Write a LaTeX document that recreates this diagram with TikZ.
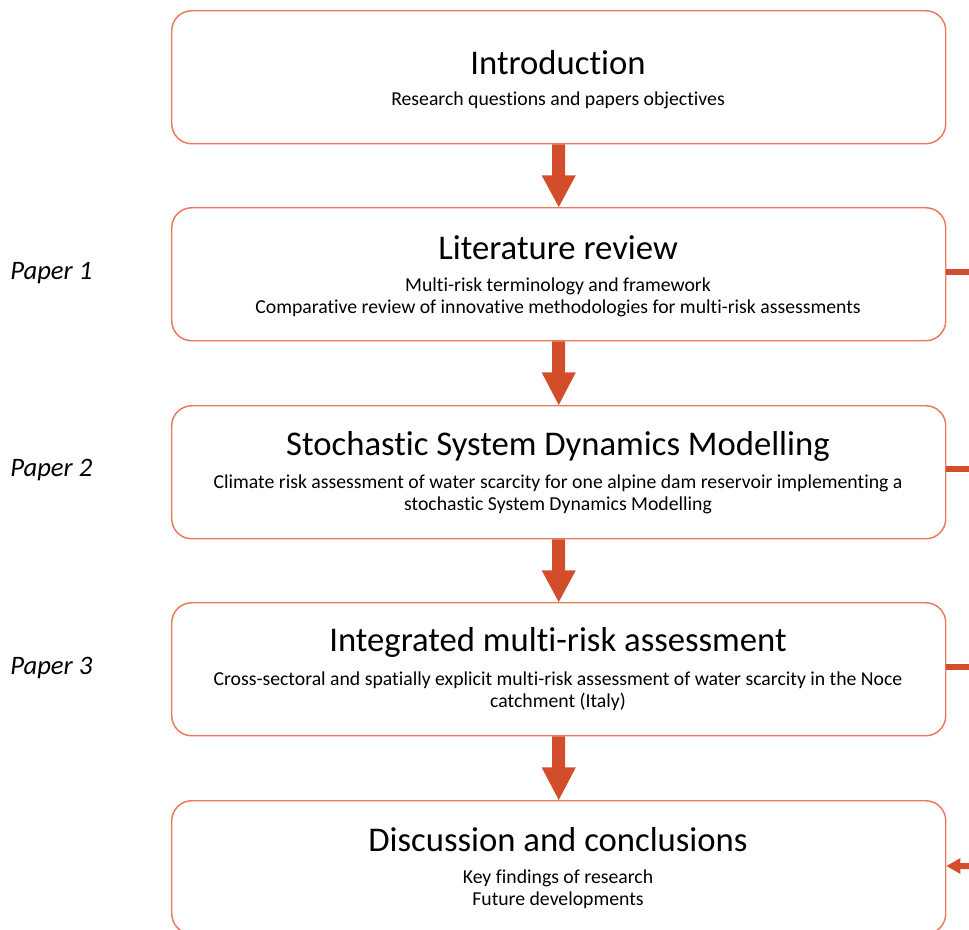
\documentclass[tikz,border=0pt]{standalone}
\usepackage{fontspec}
\setmainfont{Carlito}[Ligatures={NoCommon,NoRequired,NoContextual,NoRare}, Contextuals=NoAlternate]
\usetikzlibrary{arrows.meta,calc}
\definecolor{boxline}{HTML}{E97A5A}
\definecolor{flow}{HTML}{D24E2A}
\tikzset{
  stagebox/.style={draw=boxline, line width=1.1pt, rounded corners=15pt, fill=white,
    minimum width=580.5pt, minimum height=99.75pt, anchor=north west, inner sep=0pt},
  stagetitle/.style={font=\fontsize{26}{30}\selectfont, anchor=center, inner sep=0pt},
  stagetext/.style={font=\fontsize{14.8}{16.5}\selectfont, align=center, anchor=center, inner sep=0pt},
  paperlabel/.style={font=\fontsize{20}{24}\selectfont\itshape, anchor=west, inner sep=0pt},
  sidelink/.style={draw=flow, line width=4.5pt},
}
\begin{document}
\begin{tikzpicture}[x=0.75pt,y=-0.75pt]
\useasboundingbox (0,0) rectangle (969,929);
\begin{scope}
\clip (0,0) rectangle (969,929);

% stage boxes
\node[stagebox] (b1) at (171,10) {};
\node[stagebox] (b2) at (171,207) {};
\node[stagebox] (b3) at (171,405) {};
\node[stagebox] (b4) at (171,602) {};
\node[stagebox] (b5) at (171,800) {};

% titles and descriptions
\node[stagetitle] (t1) at (558,63) {Introduction};
\node[stagetext] (d1) at (558,100) {Research questions and papers objectives};
\node[stagetitle] (t2) at (558,248) {Literature review};
\node[stagetext] (d2) at (558,297) {Multi-risk terminology and framework\\Comparative review of innovative methodologies for multi-risk assessments};
\node[stagetitle] (t3) at (558,446) {Stochastic System Dynamics Modelling};
\node[stagetext] (d3) at (558,494) {Climate risk assessment of water scarcity for one alpine dam reservoir implementing a\\stochastic System Dynamics Modelling};
\node[stagetitle] (t4) at (558,642) {Integrated multi-risk assessment};
\node[stagetext] (d4) at (558,691) {Cross-sectoral and spatially explicit multi-risk assessment of water scarcity in the Noce\\catchment (Italy)};
\node[stagetitle] (t5) at (558,840) {Discussion and conclusions};
\node[stagetext] (d5) at (558,889) {Key findings of research\\Future developments};

% paper labels
\node[paperlabel] (p1) at (10,273) {Paper 1};
\node[paperlabel] (p2) at (10,470) {Paper 2};
\node[paperlabel] (p3) at (10,668) {Paper 3};

% block arrows between stages
\foreach \u/\l in {b1/b2,b2/b3,b3/b4,b4/b5}{
  \fill[flow] ($(\u.south)+(-6.5,0)$) -- ($(\u.south)+(6.5,0)$) -- ($(\u.south)+(6.5,31)$)
    -- ($(\u.south)+(17,31)$) -- (\l.north) -- ($(\u.south)+(-17,31)$) -- ($(\u.south)+(-6.5,31)$) -- cycle;
}

% side links towards the right
\coordinate (r2) at (975,272);
\coordinate (r3) at (975,469);
\coordinate (r4) at (975,667);
\draw[sidelink] (b2.east |- r2) -- (r2);
\draw[sidelink] (b3.east |- r3) -- (r3);
\draw[sidelink] (b4.east |- r4) -- (r4);
\coordinate (r5) at (975,866);
\coordinate (tip5) at (b5.east |- r5);
\fill[flow] (tip5) -- ($(tip5)+(14,-8)$) -- ($(tip5)+(14,-3)$) -- ($(r5)+(0,-3)$)
  -- ($(r5)+(0,3)$) -- ($(tip5)+(14,3)$) -- ($(tip5)+(14,8)$) -- cycle;
\end{scope}
\end{tikzpicture}
\end{document}
